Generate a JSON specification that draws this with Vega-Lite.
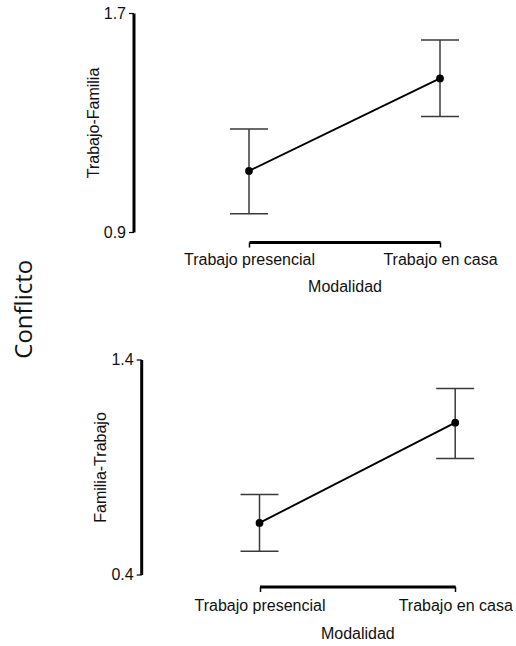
{
  "$schema": "https://vega.github.io/schema/vega-lite/v6.json",
  "background": "white",
  "padding": {"left": 12, "top": 5, "right": 0, "bottom": 0},
  "title": {"text": "Conflicto", "orient": "left", "anchor": "middle", "font": "Open Sans", "fontSize": 24, "fontWeight": "normal", "color": "#111", "offset": 49, "dx": 14},
  "config": {
    "view": {"stroke": null},
    "axis": {"labelFont": "Liberation Sans", "labelFontSize": 16, "labelColor": "#111", "titleFont": "Liberation Sans", "titleFontSize": 16, "titleFontWeight": "normal", "titleColor": "#111", "grid": false, "domainColor": "#000", "tickColor": "#000"}
  },
  "datasets": {
    "tf": [
      {"Modalidad": "Trabajo presencial", "media": 1.123, "inf": 0.967, "sup": 1.276},
      {"Modalidad": "Trabajo en casa", "media": 1.461, "inf": 1.322, "sup": 1.601}
    ],
    "ft": [
      {"Modalidad": "Trabajo presencial", "media": 0.640, "inf": 0.508, "sup": 0.772},
      {"Modalidad": "Trabajo en casa", "media": 1.106, "inf": 0.940, "sup": 1.265}
    ]
  },
  "vconcat": [
    {
      "width": 191, "height": 219,
      "data": {"name": "tf"},
      "encoding": {
        "x": {"field": "Modalidad", "type": "nominal", "sort": ["Trabajo presencial", "Trabajo en casa"], "scale": {"type": "point", "padding": 0},
          "axis": {"title": "Modalidad", "labelAngle": 0, "offset": 10, "domainWidth": 3, "tickSize": 5, "tickWidth": 1.5, "labelPadding": 4, "titlePadding": 11}}
      },
      "layer": [
        {"mark": {"type": "rule", "color": "#3a3a3a", "strokeWidth": 1.5},
         "encoding": {"y": {"field": "inf", "type": "quantitative", "title": "Trabajo-Familia", "scale": {"domain": [0.9, 1.7], "nice": false, "zero": false},
           "axis": {"values": [0.9, 1.7], "format": ".1f", "offset": 115.5, "domainWidth": 3, "tickSize": 5, "tickWidth": 1.2, "labelPadding": 3, "titlePadding": 1.5}},
           "y2": {"field": "sup"}}},
        {"mark": {"type": "tick", "orient": "horizontal", "size": 38, "thickness": 1.5, "color": "#3a3a3a", "opacity": 1},
         "encoding": {"y": {"field": "inf", "type": "quantitative", "title": "Trabajo-Familia"}}},
        {"mark": {"type": "tick", "orient": "horizontal", "size": 38, "thickness": 1.5, "color": "#3a3a3a", "opacity": 1},
         "encoding": {"y": {"field": "sup", "type": "quantitative", "title": "Trabajo-Familia"}}},
        {"mark": {"type": "line", "color": "#000", "strokeWidth": 1.9},
         "encoding": {"y": {"field": "media", "type": "quantitative", "title": "Trabajo-Familia"}}},
        {"mark": {"type": "point", "filled": true, "size": 60, "color": "#000", "opacity": 1},
         "encoding": {"y": {"field": "media", "type": "quantitative", "title": "Trabajo-Familia"}}}
      ]
    },
    {
      "width": 207, "height": 215,
      "data": {"name": "ft"},
      "encoding": {
        "x": {"field": "Modalidad", "type": "nominal", "sort": ["Trabajo presencial", "Trabajo en casa"], "scale": {"type": "point", "padding": 0, "range": [10.5, 206.2]},
          "axis": {"title": "Modalidad", "labelAngle": 0, "offset": 12, "domainWidth": 3, "tickSize": 5, "tickWidth": 1.5, "labelPadding": 6, "titlePadding": 12}}
      },
      "layer": [
        {"mark": {"type": "rule", "color": "#3a3a3a", "strokeWidth": 1.5},
         "encoding": {"y": {"field": "inf", "type": "quantitative", "title": "Familia-Trabajo", "scale": {"domain": [0.4, 1.4], "nice": false, "zero": false},
           "axis": {"values": [0.4, 1.4], "format": ".1f", "offset": 107.8, "domainWidth": 3, "tickSize": 5, "tickWidth": 1.2, "labelPadding": 3, "titlePadding": 2.7}},
           "y2": {"field": "sup"}}},
        {"mark": {"type": "tick", "orient": "horizontal", "size": 38, "thickness": 1.5, "color": "#3a3a3a", "opacity": 1},
         "encoding": {"y": {"field": "inf", "type": "quantitative", "title": "Familia-Trabajo"}}},
        {"mark": {"type": "tick", "orient": "horizontal", "size": 38, "thickness": 1.5, "color": "#3a3a3a", "opacity": 1},
         "encoding": {"y": {"field": "sup", "type": "quantitative", "title": "Familia-Trabajo"}}},
        {"mark": {"type": "line", "color": "#000", "strokeWidth": 1.9},
         "encoding": {"y": {"field": "media", "type": "quantitative", "title": "Familia-Trabajo"}}},
        {"mark": {"type": "point", "filled": true, "size": 60, "color": "#000", "opacity": 1},
         "encoding": {"y": {"field": "media", "type": "quantitative", "title": "Familia-Trabajo"}}}
      ]
    }
  ],
  "spacing": 57.5
}
